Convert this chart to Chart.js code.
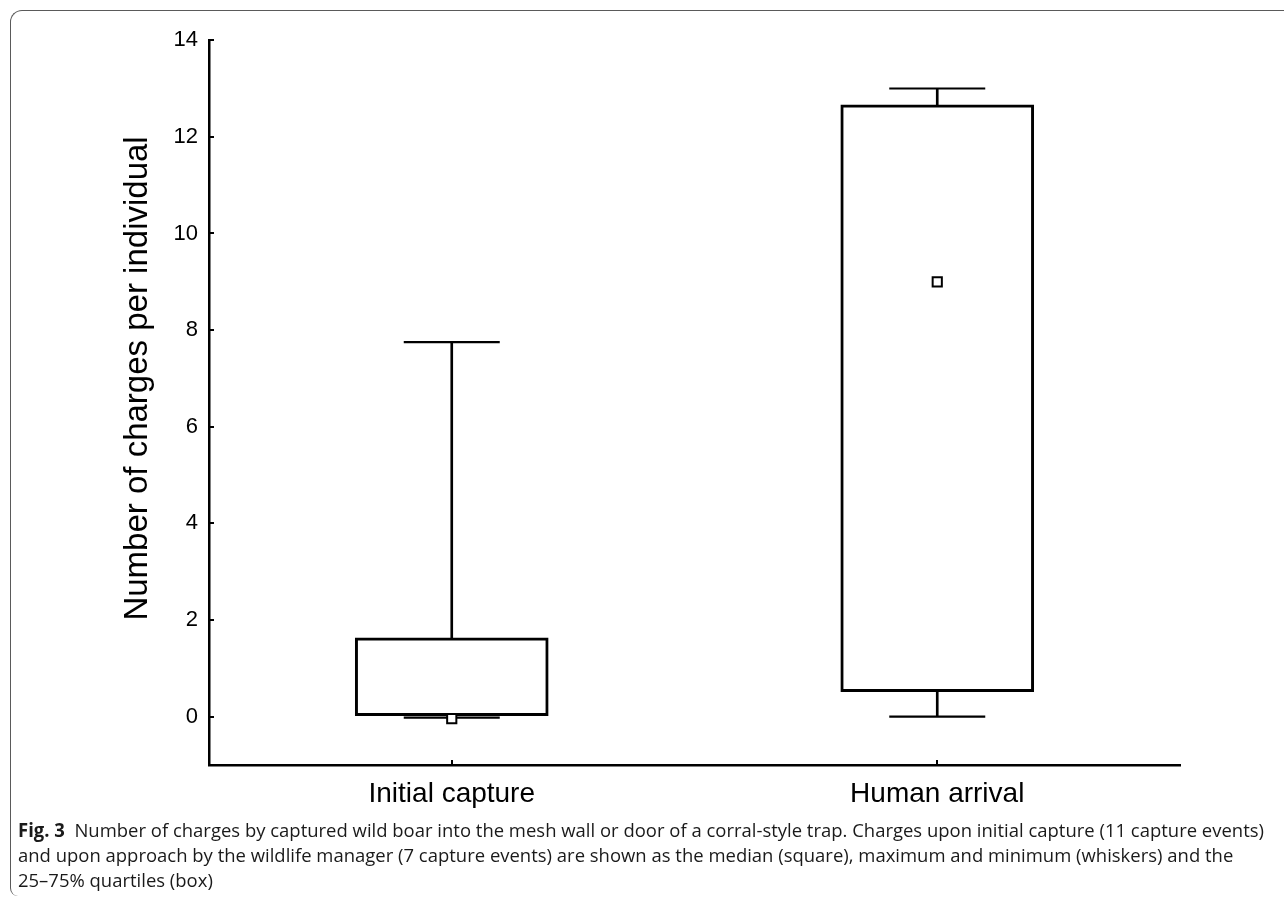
<!DOCTYPE html>
<html>
<head>
<meta charset="utf-8">
<script src="https://cdn.jsdelivr.net/npm/chart.js@4.4.1/dist/chart.umd.min.js"></script>
<style>
  html, body { margin: 0; padding: 0; background: #fff; }
  body { width: 1284px; height: 900px; position: relative; overflow: hidden; }
  #wrap { position: absolute; left: 0; top: -10px; width: 1284px; height: 910px; }
  #frame { position: absolute; left: 10px; top: 10px; width: 1300px; height: 886px;
           border-left: 1.5px solid #5a5a5a; border-top: 1.5px solid #5a5a5a;
           border-top-left-radius: 12px; border-bottom-left-radius: 8px; box-sizing: border-box; }
  .cap { position: absolute; left: 18px; white-space: nowrap; font-family: "Open Sans", "Noto Sans", sans-serif;
         font-size: 19px; line-height: 25px; color: #1a1a1a; transform-origin: 0 0; }
  .cap b { font-weight: 700; }
</style>
</head>
<body>
<div id="frame"></div>
<div id="wrap"><canvas id="c" width="1284" height="910"></canvas></div>
<div class="cap" id="l1" style="top:818px"><b>Fig. 3</b>&nbsp;&nbsp;Number of charges by captured wild boar into the mesh wall or door of a corral-style trap. Charges upon initial capture (11 capture events)</div>
<div class="cap" id="l2" style="top:843px">and upon approach by the wildlife manager (7 capture events) are shown as the median (square), maximum and minimum (whiskers) and the</div>
<div class="cap" id="l3" style="top:868px">25–75% quartiles (box)</div>
<script>
const categories = ['Initial capture', 'Human arrival'];
const minVals    = [-0.02, 0];
const q1Vals     = [0.02, 0.52];
const medianVals = [-0.04, 9];
const q3Vals     = [1.63, 12.66];
const maxVals    = [7.75, 13];
const yTicks     = [0, 2, 4, 6, 8, 10, 12, 14];
const yTitle     = 'Number of charges per individual';

// fit caption width
(function(){
  const l1 = document.getElementById('l1');
  const w = l1.getBoundingClientRect().width;
  const s = 1246 / w;
  ['l1','l2','l3'].forEach(id => { document.getElementById(id).style.transform = 'scaleX(' + s + ')'; });
})();

const insideTicks = {
  id: 'insideTicks',
  afterDraw(chart) {
    const {ctx, chartArea, scales} = chart;
    ctx.save();
    ctx.strokeStyle = '#000';
    ctx.lineWidth = 2;
    yTicks.forEach(v => {
      const y = Math.round(scales.y.getPixelForValue(v));
      ctx.beginPath(); ctx.moveTo(chartArea.left, y); ctx.lineTo(chartArea.left + 5, y); ctx.stroke();
    });
    categories.forEach((c, i) => {
      const x = Math.round(scales.x.getPixelForValue(i));
      ctx.beginPath(); ctx.moveTo(x, chartArea.bottom); ctx.lineTo(x, chartArea.bottom - 5); ctx.stroke();
    });
    // y-axis title, centred on the 0..14 tick range
    const yc = (scales.y.getPixelForValue(0) + scales.y.getPixelForValue(14)) / 2;
    ctx.fillStyle = '#000';
    ctx.font = '33px "Liberation Sans", Arial, sans-serif';
    ctx.textAlign = 'center';
    ctx.textBaseline = 'middle';
    ctx.translate(138, yc);
    ctx.rotate(-Math.PI / 2);
    ctx.fillText(yTitle, 0, 0);
    ctx.restore();
  }
};

new Chart(document.getElementById('c'), {
  type: 'bar',
  data: {
    labels: categories,
    datasets: [
      { type: 'bar', data: categories.map((c, i) => [q3Vals[i], maxVals[i]]), barThickness: 2,
        backgroundColor: '#000', borderWidth: 0, grouped: false, order: 6 },
      { type: 'bar', data: categories.map((c, i) => [minVals[i], q1Vals[i]]), barThickness: 2,
        backgroundColor: '#000', borderWidth: 0, grouped: false, order: 5 },
      { type: 'bar', data: categories.map((c, i) => [q1Vals[i], q3Vals[i]]), barThickness: 193,
        backgroundColor: '#fff', borderColor: '#000', borderWidth: 3, borderSkipped: false, grouped: false, order: 4 },
      { type: 'line', data: maxVals, showLine: false, pointStyle: 'line', pointRadius: 48, pointHoverRadius: 48,
        pointBorderColor: '#000', pointBorderWidth: 2.2, borderColor: '#000', order: 3 },
      { type: 'line', data: minVals, showLine: false, pointStyle: 'line', pointRadius: 48, pointHoverRadius: 48,
        pointBorderColor: '#000', pointBorderWidth: 2.2, borderColor: '#000', order: 2 },
      { type: 'line', data: medianVals, showLine: false, pointStyle: 'rect', pointRadius: 6.5, pointHoverRadius: 6.5,
        pointBackgroundColor: '#fff', pointBorderColor: '#000', pointBorderWidth: 2, order: 1 }
    ]
  },
  options: {
    responsive: false,
    animation: false,
    events: [],
    layout: { padding: { left: 0, top: 39, right: 104, bottom: 75 } },
    plugins: { legend: { display: false }, tooltip: { enabled: false } },
    scales: {
      x: {
        offset: true,
        grid: { display: false, drawTicks: false },
        border: { display: true, color: '#000', width: 2.5 },
        ticks: { color: '#000', padding: 12, font: { family: 'Liberation Sans, Arial, sans-serif', size: 28 } },
        afterFit(scale) { scale.height = 60; }
      },
      y: {
        min: -1, max: 14,
        grid: { display: false, drawTicks: false },
        border: { display: true, color: '#000', width: 2.5 },
        afterBuildTicks(scale) { scale.ticks = yTicks.map(v => ({ value: v })); },
        ticks: { color: '#000', padding: 11, font: { family: 'Liberation Sans, Arial, sans-serif', size: 22 } },
        title: { display: false },
        afterFit(scale) { scale.width = 209; }
      }
    }
  },
  plugins: [insideTicks]
});
</script>
</body>
</html>
